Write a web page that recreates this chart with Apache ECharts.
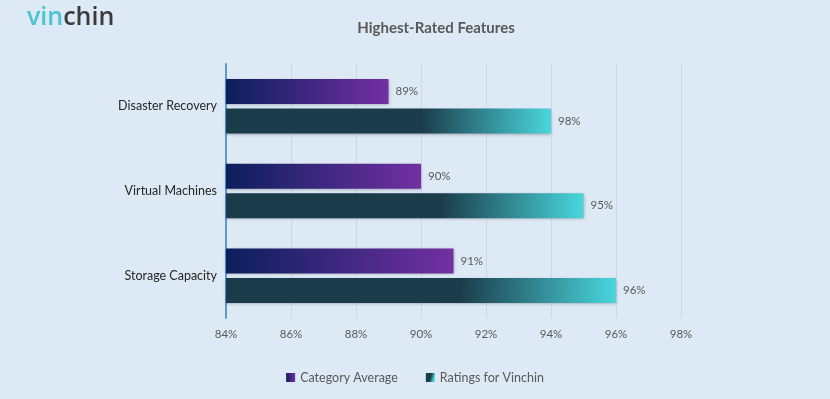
<!DOCTYPE html>
<html><head><meta charset="utf-8">
<script src="https://cdn.jsdelivr.net/npm/echarts@6/dist/echarts.min.js"></script>
<style>html,body{margin:0;padding:0;background:#dde9f5;}#c{width:830px;height:399px;}</style>
</head><body><div id="c"></div>
<script>
const categories = ['Disaster Recovery', 'Virtual Machines', 'Storage Capacity'];
const categoryAverage = [89, 90, 91];
const vinchinBars = [94, 95, 96];
const vinchinLabels = ['98%', '95%', '96%'];
const xTicks = [84, 86, 88, 90, 92, 94, 96, 98];

const font = 'Lato, "Open Sans", sans-serif';
const chart = echarts.init(document.getElementById('c'));
const purple = new echarts.graphic.LinearGradient(0, 0, 1, 0, [
  {offset: 0, color: '#0b1f5d'}, {offset: 1, color: '#7230a2'}]);
const teal = new echarts.graphic.LinearGradient(0, 0, 1, 0.3, [
  {offset: 0, color: '#1a3b49'}, {offset: 0.6, color: '#1b3c4a'}, {offset: 1, color: '#4ad6dc'}]);
chart.setOption({
  backgroundColor: '#dde9f5',
  graphic: [{
    type: 'text', left: 27, top: 5,
    style: {
      text: '{a|vin}{b|chin}',
      rich: {
        a: {fill: '#4cc3d0', fontSize: 25, fontWeight: 600, fontFamily: '"Open Sans", sans-serif'},
        b: {fill: '#3b3b3b', fontSize: 25, fontWeight: 600, fontFamily: '"Open Sans", sans-serif'}
      }
    }
  }],
  title: {
    text: 'Highest-Rated Features', left: 431, textAlign: 'center', top: 16,
    textStyle: {fontFamily: font, fontSize: 15, fontWeight: 'bold', color: '#595959'}
  },
  legend: {
    bottom: 10, left: 'center', itemWidth: 9, itemHeight: 9, itemGap: 28, icon: 'rect',
    textStyle: {fontFamily: font, fontSize: 12.5, color: '#595959'},
    data: ['Category Average', 'Ratings for Vinchin']
  },
  grid: {left: 226, right: 149, top: 64, bottom: 81, containLabel: false},
  xAxis: {
    type: 'value', min: 84, max: 98, interval: 2,
    axisLine: {show: false}, axisTick: {show: false},
    splitLine: {lineStyle: {color: '#cfd8e2', width: 1}},
    axisLabel: {formatter: v => xTicks.includes(v) ? v + '%' : '', fontFamily: font, fontSize: 11.5, color: '#595959', margin: 10}
  },
  yAxis: {
    type: 'category', data: categories, inverse: true,
    axisLine: {lineStyle: {color: '#5b9bd5', width: 2}}, axisTick: {show: false},
    axisLabel: {fontFamily: font, fontSize: 12.5, color: '#262626', margin: 9}
  },
  series: [{
    name: 'Category Average', type: 'bar', data: categoryAverage,
    barWidth: 25, barGap: '18%',
    itemStyle: {color: purple, shadowColor: 'rgba(0,0,0,0.3)', shadowBlur: 3, shadowOffsetY: 1},
    label: {show: true, position: 'right', formatter: p => p.value + '%', fontFamily: font, fontSize: 11.5, color: '#595959', distance: 7}
  }, {
    name: 'Ratings for Vinchin', type: 'bar', data: vinchinBars,
    barWidth: 25,
    itemStyle: {color: teal, shadowColor: 'rgba(0,0,0,0.3)', shadowBlur: 3, shadowOffsetY: 1},
    label: {show: true, position: 'right', formatter: p => vinchinLabels[p.dataIndex], fontFamily: font, fontSize: 11.5, color: '#595959', distance: 7}
  }]
});
</script></body></html>
